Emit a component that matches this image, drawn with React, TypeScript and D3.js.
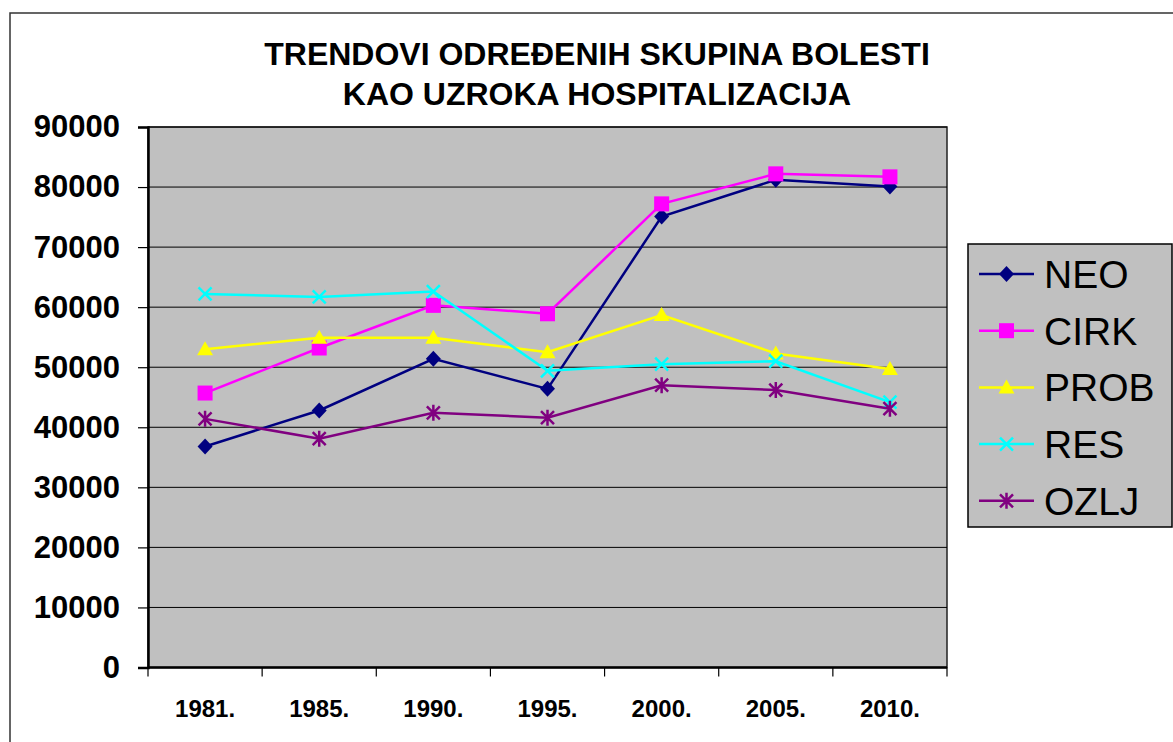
import React, { useEffect, useRef } from 'react'
import * as d3 from 'd3'

const years = ['1981.', '1985.', '1990.', '1995.', '2000.', '2005.', '2010.']
const neo = [36800, 42800, 51400, 46400, 75100, 81200, 80100]
const cirk = [45700, 53200, 60300, 58900, 77200, 82200, 81700]
const prob = [53000, 54900, 54900, 52500, 58700, 52300, 49700]
const res = [62200, 61700, 62600, 49400, 50500, 51000, 44200]
const ozlj = [41400, 38100, 42400, 41600, 47000, 46200, 43100]
const yTicks = [0, 10000, 20000, 30000, 40000, 50000, 60000, 70000, 80000, 90000]
const titleLines = ['TRENDOVI ODREĐENIH SKUPINA BOLESTI', 'KAO UZROKA HOSPITALIZACIJA']

const series = [
  { name: 'NEO', values: neo, color: '#000080', marker: 'diamond' },
  { name: 'CIRK', values: cirk, color: '#ff00ff', marker: 'square' },
  { name: 'PROB', values: prob, color: '#ffff00', marker: 'triangle' },
  { name: 'RES', values: res, color: '#00ffff', marker: 'x' },
  { name: 'OZLJ', values: ozlj, color: '#800080', marker: 'star' },
]

const W = 1173
const H = 742
const font = '"Liberation Sans", Arial, sans-serif'

// draws one marker centred at (cx, cy)
const drawMarker = (g: any, type: string, cx: number, cy: number, color: string) => {
  if (type === 'diamond') {
    g.append('path')
      .attr('d', `M${cx},${cy - 8}L${cx + 7.5},${cy}L${cx},${cy + 8}L${cx - 7.5},${cy}Z`)
      .attr('fill', color)
  } else if (type === 'square') {
    g.append('rect').attr('x', cx - 7.5).attr('y', cy - 7.5).attr('width', 15).attr('height', 15).attr('fill', color)
  } else if (type === 'triangle') {
    g.append('path')
      .attr('d', `M${cx},${cy - 8}L${cx + 8},${cy + 6}L${cx - 8},${cy + 6}Z`)
      .attr('fill', color)
  } else {
    const s = 6.5
    g.append('path')
      .attr('d', `M${cx - s},${cy - s}L${cx + s},${cy + s}M${cx - s},${cy + s}L${cx + s},${cy - s}` +
        (type === 'star' ? `M${cx},${cy - 8}L${cx},${cy + 8}` : ''))
      .attr('stroke', color)
      .attr('stroke-width', 2.5)
      .attr('fill', 'none')
  }
}

const App = () => {
  const svgRef = useRef<SVGSVGElement>(null)

  useEffect(() => {
    const svg = d3.select(svgRef.current)
    svg.selectAll('*').remove()

    const plot = { left: 148, top: 127, right: 947, bottom: 667.5 }

    const x = d3.scaleBand().domain(years).range([plot.left, plot.right])
    const y = d3.scaleLinear().domain([0, 90000]).range([plot.bottom, plot.top])

    // outer frame
    svg.append('rect')
      .attr('x', 10).attr('y', 13).attr('width', W).attr('height', H)
      .attr('fill', 'white').attr('stroke', '#333').attr('stroke-width', 1.5)

    // title
    svg.append('text')
      .attr('x', 597).attr('y', 65)
      .attr('text-anchor', 'middle')
      .style('font-family', font).style('font-weight', 'bold').style('font-size', '32px')
      .selectAll('tspan')
      .data(titleLines)
      .enter()
      .append('tspan')
      .attr('x', 597)
      .attr('dy', (d, i) => (i === 0 ? 0 : 40))
      .text((d) => d)

    // plot area
    svg.append('rect')
      .attr('x', plot.left).attr('y', plot.top)
      .attr('width', plot.right - plot.left).attr('height', plot.bottom - plot.top)
      .attr('fill', '#c0c0c0').attr('stroke', '#222').attr('stroke-width', 1.5)

    // gridlines
    svg.append('g')
      .selectAll('line')
      .data(yTicks.slice(1))
      .enter()
      .append('line')
      .attr('x1', plot.left).attr('x2', plot.right)
      .attr('y1', (d) => y(d)).attr('y2', (d) => y(d))
      .attr('stroke', 'black').attr('stroke-width', 1)

    // y axis
    const yAxis = svg.append('g')
      .attr('transform', `translate(${plot.left},0)`)
      .call(d3.axisLeft(y).tickValues(yTicks).tickSize(10).tickPadding(18).tickFormat((d) => String(d)))
    yAxis.select('.domain').attr('stroke', 'black').attr('stroke-width', 2.5)
    yAxis.selectAll('.tick line').attr('stroke', 'black').attr('stroke-width', 1.2)
    yAxis.selectAll('text')
      .style('font-family', font).style('font-weight', 'bold').style('font-size', '31px').attr('fill', 'black')

    // x axis, ticks between categories
    svg.append('line')
      .attr('x1', plot.left).attr('x2', plot.right)
      .attr('y1', plot.bottom).attr('y2', plot.bottom)
      .attr('stroke', 'black').attr('stroke-width', 2.5)
    const bounds = [...years.map((d) => x(d) as number), plot.right]
    svg.append('g')
      .selectAll('line')
      .data(bounds)
      .enter()
      .append('line')
      .attr('x1', (d) => d).attr('x2', (d) => d)
      .attr('y1', plot.bottom).attr('y2', plot.bottom + 9)
      .attr('stroke', 'black').attr('stroke-width', 1.2)
    svg.append('g')
      .selectAll('text')
      .data(years)
      .enter()
      .append('text')
      .attr('x', (d) => (x(d) as number) + x.bandwidth() / 2)
      .attr('y', 717)
      .attr('text-anchor', 'middle')
      .style('font-family', font).style('font-weight', 'bold').style('font-size', '24px')
      .text((d) => d)

    // series
    const cx = (i: number) => (x(years[i]) as number) + x.bandwidth() / 2
    const line = d3.line<number>().x((d, i) => cx(i)).y((d) => y(d))
    series.forEach((s) => {
      svg.append('path')
        .attr('d', line(s.values))
        .attr('fill', 'none')
        .attr('stroke', s.color)
        .attr('stroke-width', 2.5)
      const g = svg.append('g')
      s.values.forEach((v, i) => drawMarker(g, s.marker, cx(i), y(v), s.color))
    })

    // legend
    const legend = svg.append('g')
    legend.append('rect')
      .attr('x', 968).attr('y', 244).attr('width', 204).attr('height', 283)
      .attr('fill', '#c0c0c0').attr('stroke', 'black').attr('stroke-width', 1.5)
    series.forEach((s, i) => {
      const ly = 274 + i * 56.7
      legend.append('line')
        .attr('x1', 979).attr('x2', 1034).attr('y1', ly).attr('y2', ly)
        .attr('stroke', s.color).attr('stroke-width', 2.5)
      drawMarker(legend, s.marker, 1006.5, ly, s.color)
      legend.append('text')
        .attr('x', 1044).attr('y', ly + 14)
        .style('font-family', font).style('font-size', '39px')
        .text(s.name)
    })
  }, [])

  return (
    <div style={{ position: 'absolute', left: 0, top: 0 }}>
      <svg ref={svgRef} width={W} height={H}></svg>
    </div>
  )
}

export default App
